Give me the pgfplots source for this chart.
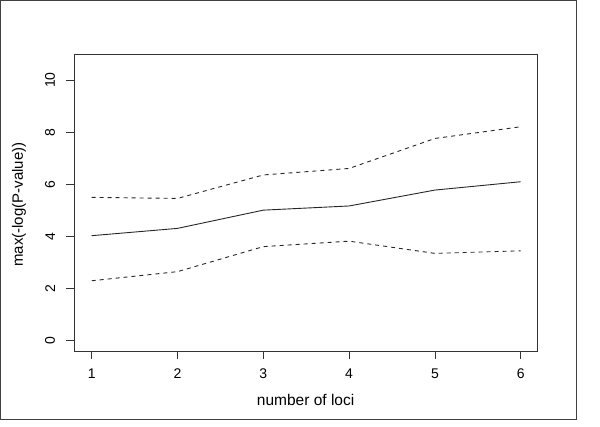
\documentclass[border=0pt]{standalone}
\usepackage{pgfplots}
\pgfplotsset{compat=1.18}
\usepackage{fontspec}
\setmainfont{Liberation Sans}

\begin{document}
\begin{tikzpicture}[x=1pt,y=1pt]
\path (0,0) rectangle (600,426);
\draw[line width=1pt, black!75] (0.5,7) rectangle (576,425.5);
\begin{axis}[
  at={(74.3pt,75pt)}, anchor=south west,
  scale only axis, width=462.7pt, height=296.7pt,
  xmin=0.797, xmax=6.19, ymin=-0.395, ymax=10.99,
  axis line style={black!80, line width=0.8pt},
  xtick={1,2,3,4,5,6}, ytick={0,2,4,6,8,10},
  tick pos=left, tick align=outside, major tick length=8pt,
  tick style={black!80, line width=0.8pt},
  /pgf/number format/assume math mode=true,
  xticklabel style={font=\fontsize{14}{16}\selectfont, inner sep=0pt, anchor=north, yshift=-10pt},
  yticklabel shift=11pt,
  yticklabel style={font=\fontsize{14}{16}\selectfont, inner sep=0pt, rotate=90, anchor=south},
  xlabel={number of loci},
  ylabel={max(-log(P-value))},
  xlabel style={font=\fontsize{15.5}{18}\selectfont, at={(axis description cs:0.5,-0.1651)}, anchor=center},
  ylabel style={font=\fontsize{15}{18}\selectfont, at={(axis description cs:-0.1195,0.493)}, anchor=center},
]
\addplot[black!85, line width=0.9pt] coordinates {(1,4.03) (2,4.31) (3,5.01) (4,5.17) (5,5.78) (6,6.10)};
\addplot[black!85, line width=0.9pt, dash pattern=on 4pt off 4pt] coordinates {(1,5.50) (2,5.46) (3,6.36) (4,6.61) (5,7.76) (6,8.21)};
\addplot[black!85, line width=0.9pt, dash pattern=on 4pt off 4pt] coordinates {(1,2.30) (2,2.65) (3,3.61) (4,3.82) (5,3.35) (6,3.45)};
\end{axis}
\end{tikzpicture}
\end{document}
